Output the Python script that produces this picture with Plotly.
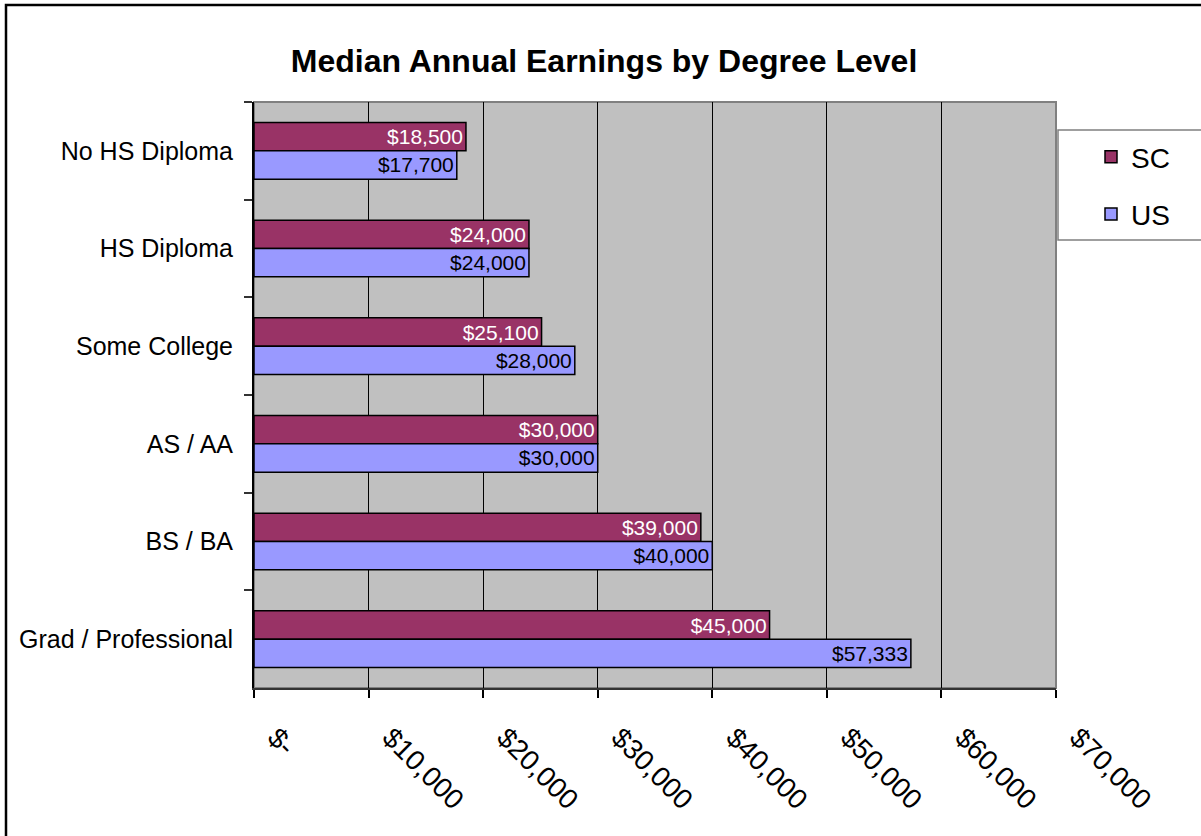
import plotly.graph_objects as go

categories = ["No HS Diploma", "HS Diploma", "Some College", "AS / AA", "BS / BA", "Grad / Professional"]
sc_values = [18500, 24000, 25100, 30000, 39000, 45000]
us_values = [17700, 24000, 28000, 30000, 40000, 57333]
tick_vals = [0, 10000, 20000, 30000, 40000, 50000, 60000, 70000]
tick_text = ["$-", "$10,000", "$20,000", "$30,000", "$40,000", "$50,000", "$60,000", "$70,000"]

W, H = 1201, 836
L, R, T, B = 254, 1056, 102, 688
FONT = "Liberation Sans, Arial, sans-serif"

def px_x(p):
    return (p - L) / (R - L)

def px_y(p):
    return (B - p) / (B - T)

fig = go.Figure()
fig.add_trace(go.Bar(
    y=categories, x=sc_values, name="SC", orientation="h",
    marker=dict(color="#993366", line=dict(color="black", width=1.5)),
    texttemplate="$%{x:,}", textposition="inside", insidetextanchor="end",
    textfont=dict(color="white", size=21, family=FONT), constraintext="none",
    legendgroup="sc",
))
fig.add_trace(go.Bar(
    y=categories, x=us_values, name="US", orientation="h",
    marker=dict(color="#9999FF", line=dict(color="black", width=1.5)),
    texttemplate="$%{x:,}", textposition="inside", insidetextanchor="end",
    textfont=dict(color="black", size=21, family=FONT), constraintext="none",
    legendgroup="us",
))

fig.update_layout(
    width=W, height=H,
    margin=dict(l=L, r=W - R, t=T, b=H - B, pad=0),
    paper_bgcolor="white", plot_bgcolor="#C0C0C0",
    barmode="group", bargap=0.42, bargroupgap=0,
    font=dict(family=FONT, color="black", size=25),
    title=dict(text="<b>Median Annual Earnings by Degree Level</b>",
               x=604 / W, xanchor="center", y=1 - 61 / H, yanchor="middle",
               font=dict(size=32, family=FONT, color="black")),
    legend=dict(x=px_x(1091), y=px_y(132), xanchor="left", yanchor="top",
                borderwidth=0, bgcolor="rgba(0,0,0,0)",
                font=dict(size=28, family=FONT), tracegroupgap=18,
                traceorder="grouped"),
    xaxis=dict(range=[0, 70000], tickvals=tick_vals, ticktext=tick_text,
               tickangle=45, tickfont=dict(size=28, family=FONT),
               showgrid=True, gridcolor="black", gridwidth=1,
               ticks="outside", ticklen=8, tickcolor="black", tickwidth=1.5,
               showline=True, linecolor="#333333", linewidth=2,
               ticklabelstandoff=12, ticklabelshift=22, zeroline=False, fixedrange=True),
    yaxis=dict(autorange="reversed", tickson="boundaries",
               ticks="outside", ticklen=8, tickcolor="#333333", tickwidth=1.5,
               showline=True, linecolor="black", linewidth=2,
               tickfont=dict(size=25, family=FONT), ticklabelstandoff=14,
               showgrid=False, fixedrange=True),
    showlegend=True,
)

# plot area border (top/right gray)
fig.add_shape(type="rect", xref="paper", yref="paper", x0=0, x1=1, y0=0, y1=1,
              line=dict(color="#808080", width=2), fillcolor="rgba(0,0,0,0)", layer="below")
# legend box (extends past the right edge)
fig.add_shape(type="rect", xref="paper", yref="paper",
              x0=px_x(1058), x1=px_x(1215), y0=px_y(240), y1=px_y(130),
              line=dict(color="#808080", width=1.5), fillcolor="white", layer="below")
# outer chart border (only top and left visible)
fig.add_shape(type="rect", xref="paper", yref="paper",
              x0=px_x(6), x1=px_x(1220), y0=px_y(850), y1=px_y(5),
              line=dict(color="black", width=2.5), fillcolor="rgba(0,0,0,0)")

fig.write_html("out.html")
